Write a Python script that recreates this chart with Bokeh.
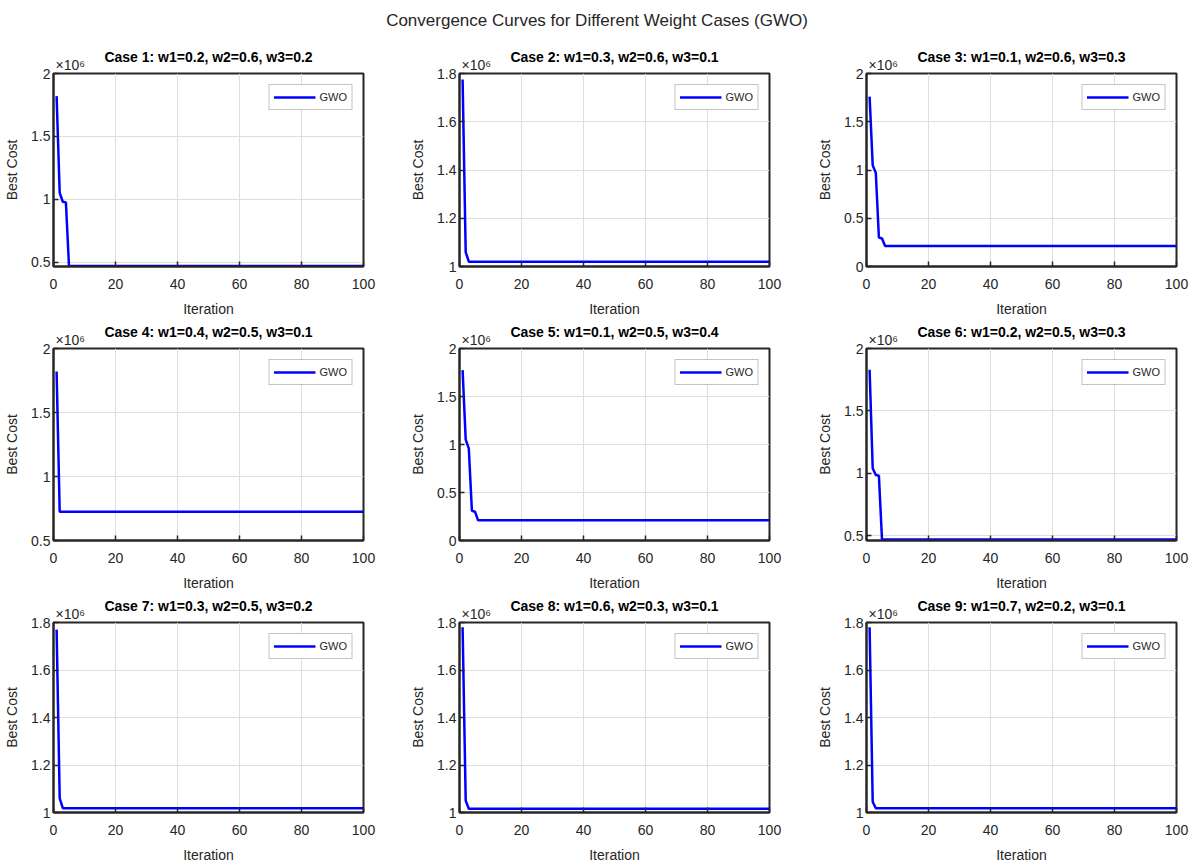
from bokeh.plotting import figure
from bokeh.models import Div, Title, FixedTicker, Range1d
from bokeh.layouts import column, row
from bokeh.embed import file_html
from bokeh.resources import INLINE

# ---- data (Best Cost values) ----
main_title = "Convergence Curves for Different Weight Cases (GWO)"
case_titles = [
    "Case 1: w1=0.2, w2=0.6, w3=0.2",
    "Case 2: w1=0.3, w2=0.6, w3=0.1",
    "Case 3: w1=0.1, w2=0.6, w3=0.3",
    "Case 4: w1=0.4, w2=0.5, w3=0.1",
    "Case 5: w1=0.1, w2=0.5, w3=0.4",
    "Case 6: w1=0.2, w2=0.5, w3=0.3",
    "Case 7: w1=0.3, w2=0.5, w3=0.2",
    "Case 8: w1=0.6, w2=0.3, w3=0.1",
    "Case 9: w1=0.7, w2=0.2, w3=0.1",
]
iter_c1 = [1, 2, 3, 4, 5, 100]
cost_c1 = [1820000, 1050000, 980000, 975000, 468000, 468000]
iter_c2 = [1, 2, 3, 100]
cost_c2 = [1775000, 1060000, 1020000, 1020000]
iter_c3 = [1, 2, 3, 4, 5, 6, 100]
cost_c3 = [1760000, 1050000, 970000, 300000, 290000, 212000, 212000]
iter_c4 = [1, 2, 100]
cost_c4 = [1820000, 724000, 724000]
iter_c5 = [1, 2, 3, 4, 5, 6, 100]
cost_c5 = [1775000, 1050000, 960000, 310000, 300000, 210000, 210000]
iter_c6 = [1, 2, 3, 4, 5, 100]
cost_c6 = [1830000, 1040000, 985000, 980000, 468000, 468000]
iter_c7 = [1, 2, 3, 100]
cost_c7 = [1770000, 1060000, 1018000, 1018000]
iter_c8 = [1, 2, 3, 100]
cost_c8 = [1780000, 1050000, 1016000, 1016000]
iter_c9 = [1, 2, 3, 100]
cost_c9 = [1780000, 1045000, 1018000, 1018000]

x_ticks = [0, 20, 40, 60, 80, 100]
y_ticks_a = [500000, 1000000, 1500000, 2000000]
y_ticks_b = [1000000, 1200000, 1400000, 1600000, 1800000]
y_ticks_c = [0, 500000, 1000000, 1500000, 2000000]
y_ranges = [
    (465000, 2000000), (1000000, 1800000), (0, 2000000),
    (500000, 2000000), (0, 2000000), (460000, 2000000),
    (1000000, 1800000), (1000000, 1800000), (1000000, 1800000),
]
y_tick_sets = [y_ticks_a, y_ticks_b, y_ticks_c, y_ticks_a, y_ticks_c,
               y_ticks_a, y_ticks_b, y_ticks_b, y_ticks_b]
series = [(iter_c1, cost_c1), (iter_c2, cost_c2), (iter_c3, cost_c3),
          (iter_c4, cost_c4), (iter_c5, cost_c5), (iter_c6, cost_c6),
          (iter_c7, cost_c7), (iter_c8, cost_c8), (iter_c9, cost_c9)]
series_name = "GWO"
x_label = "Iteration"
y_label = "Best Cost"
exp_label = "\u00d710\u2076"

FONT = "Liberation Sans"
TXT = "#262626"

col_left = [53, 61, 70]
col_right = [35, 27, 18]
row_top = [28, 28, 27]
row_frame = [193, 192, 190]
row_bottom = [54, 55, 54]


def make_panel(i):
    r, c = divmod(i, 3)
    xs, ys = series[i]
    y0, y1 = y_ranges[i]
    fh = row_frame[r]
    p = figure(
        output_backend="svg", toolbar_location=None,
        frame_width=310, frame_height=fh,
        min_border_left=col_left[c], min_border_right=col_right[c],
        min_border_top=row_top[r], min_border_bottom=row_bottom[r],
        x_range=Range1d(0, 100), y_range=Range1d(y0, y1),
        background_fill_color="white", border_fill_color="white",
    )
    # exponent note sits just above the top-left corner of the frame
    p.add_layout(Title(text=exp_label, align="left", offset=2, standoff=1,
                       text_font=FONT, text_font_size="14px",
                       text_font_style="normal", text_color=TXT), "above")
    p.title.text = case_titles[i]
    p.title.align = "center"
    p.title.text_font = FONT
    p.title.text_font_size = "14px"
    p.title.text_font_style = "bold"
    p.title.text_color = "black"
    p.title.standoff = -21

    p.outline_line_color = "#262626"
    p.outline_line_width = 2
    p.outline_line_alpha = 1

    p.xaxis.ticker = FixedTicker(ticks=x_ticks)
    p.yaxis.ticker = FixedTicker(ticks=y_tick_sets[i])
    p.yaxis.major_label_overrides = {t: f"{t/1e6:g}" for t in y_tick_sets[i]}
    for ax in (p.xaxis, p.yaxis):
        ax.major_tick_in = 5
        ax.major_tick_out = 0
        ax.minor_tick_line_color = None
        ax.major_tick_line_color = "#262626"
        ax.major_tick_line_width = 1.5
        ax.axis_line_color = "#262626"
        ax.axis_line_width = 2
        ax.major_label_text_font = FONT
        ax.major_label_text_font_size = "14px"
        ax.major_label_text_color = TXT
        ax.axis_label_text_font = FONT
        ax.axis_label_text_font_size = "14px"
        ax.axis_label_text_font_style = "normal"
        ax.axis_label_text_color = TXT
    p.xaxis.axis_label = x_label
    p.yaxis.axis_label = y_label
    p.xaxis.major_label_standoff = 12
    p.yaxis.major_label_standoff = 3
    p.xaxis.axis_label_standoff = 9
    p.yaxis.axis_label_standoff = 8

    p.grid.grid_line_color = "#dedede"
    p.grid.grid_line_width = 1

    p.line(xs, ys, line_color="#0000ff", line_width=2.5, legend_label=series_name)
    lg = p.legend[0]
    lg.location = "top_right"
    lg.margin = 11
    lg.padding = 4
    lg.spacing = 0
    lg.glyph_width = 42
    lg.glyph_height = 16
    lg.label_standoff = 4
    lg.label_height = 16
    lg.label_text_font = FONT
    lg.label_text_font_size = "11px"
    lg.label_text_color = TXT
    lg.border_line_color = "#8a8a8a"
    lg.border_line_width = 1.5
    lg.background_fill_color = "white"
    lg.background_fill_alpha = 1
    return p


panels = [make_panel(i) for i in range(9)]
title_div = Div(
    text=f'<div style="width:1194px;text-align:center;font-family:\'{FONT}\';'
         f'font-size:17px;color:#262626;padding-top:9px;">{main_title}</div>',
    width=1194, height=45, margin=(0, 0, 0, 0),
)
grid_rows = [row(*panels[k * 3:(k + 1) * 3], spacing=0) for k in range(3)]
layout = column(title_div, *grid_rows, spacing=0)

open("out.html", "w").write(file_html(layout, INLINE))
